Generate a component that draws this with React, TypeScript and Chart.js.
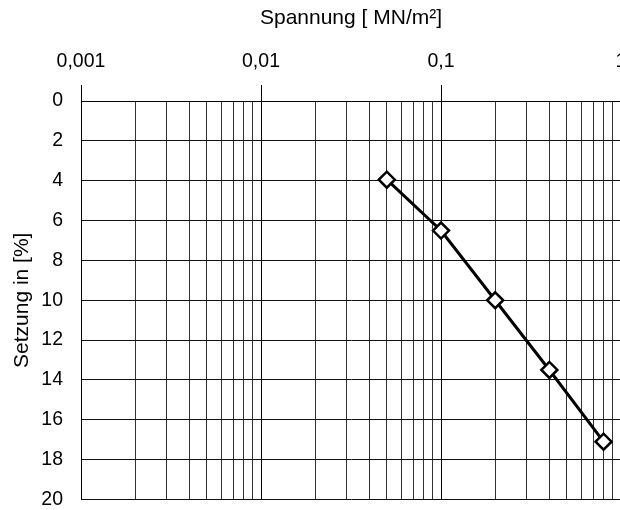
import React, { useEffect, useRef } from 'react';
import { Chart, registerables } from 'chart.js';

Chart.register(...registerables);

// ---- data ----
const stress = [0.05, 0.1, 0.2, 0.4, 0.8]; // MN/m²
const settlement = [3.95, 6.5, 10.0, 13.5, 17.1]; // %

// ---- axis definitions ----
const xDecades = [0.001, 0.01, 0.1, 1];
const xTickLabels = ['0,001', '0,01', '0,1', '1'];
const xSubdivisions = [1, 2, 3, 4, 5, 6, 7, 8, 9];
const yMin = 0;
const yMax = 20;
const yStep = 2;
const xTitle = 'Spannung [ MN/m²]';
const yTitle = 'Setzung in [%]';

const FONT = "'Liberation Sans', Arial, sans-serif";

const isDecade = (v: number) => {
  const l = Math.log10(v);
  return Math.abs(l - Math.round(l)) < 1e-9;
};

const decadeLabel = (v: number) => {
  for (let i = 0; i < xDecades.length; i++) {
    if (Math.abs(xDecades[i] - v) / xDecades[i] < 1e-9) return xTickLabels[i];
  }
  return '';
};

export default function App() {
  const canvasRef = useRef<HTMLCanvasElement | null>(null);

  useEffect(() => {
    if (!canvasRef.current) return;
    const gridValues: number[] = [];
    for (let i = 0; i < xDecades.length - 1; i++) {
      for (const s of xSubdivisions) gridValues.push(xDecades[i] * s);
    }
    gridValues.push(xDecades[xDecades.length - 1]);

    const chart = new Chart(canvasRef.current, {
      type: 'scatter',
      data: {
        datasets: [
          {
            data: stress.map((x, i) => ({ x, y: settlement[i] })),
            showLine: true,
            borderColor: '#000',
            borderWidth: 3,
            tension: 0,
            pointStyle: 'rectRot',
            pointRadius: 8,
            pointHoverRadius: 8,
            pointBorderWidth: 2.5,
            pointBackgroundColor: '#fff',
            pointBorderColor: '#000',
          },
        ],
      },
      options: {
        animation: false,
        responsive: false,
        devicePixelRatio: 1,
        layout: { padding: { left: 0, top: 0, right: 19, bottom: 9 } },
        plugins: {
          legend: { display: false },
          tooltip: { enabled: false },
          title: { display: false },
        },
        scales: {
          x: {
            type: 'logarithmic',
            position: 'top',
            min: xDecades[0],
            max: xDecades[xDecades.length - 1],
            afterBuildTicks: (scale: any) => {
              scale.ticks = gridValues.map((v) => ({ value: v, major: isDecade(v) }));
            },
            afterFit: (scale: any) => {
              scale.height = 101;
            },
            ticks: {
              autoSkip: false,
              maxRotation: 0,
              minRotation: 0,
              padding: 12,
              color: '#000',
              font: { family: FONT, size: 19.5 },
              callback: (value: any) => (isDecade(Number(value)) ? decadeLabel(Number(value)) : ''),
            },
            grid: {
              color: (ctx: any) => (ctx.tick && isDecade(ctx.tick.value) ? '#000' : '#333'),
              lineWidth: 1,
              drawTicks: true,
              tickLength: 16,
              tickColor: (ctx: any) => (ctx.tick && isDecade(ctx.tick.value) ? '#000' : 'rgba(0,0,0,0)'),
            },
            border: { color: '#000', width: 1 },
            title: {
              display: true,
              text: xTitle,
              color: '#000',
              font: { family: FONT, size: 21 },
              padding: { top: 6, bottom: 0 },
            },
          },
          y: {
            type: 'linear',
            reverse: true,
            min: yMin,
            max: yMax,
            afterFit: (scale: any) => {
              scale.width = 81;
              scale.paddingTop = 0;
              scale.paddingBottom = 0;
            },
            ticks: {
              stepSize: yStep,
              padding: 18,
              color: '#000',
              font: { family: FONT, size: 19.5 },
            },
            grid: {
              color: '#111',
              lineWidth: 1,
              drawTicks: false,
            },
            border: { color: '#000', width: 1 },
            title: {
              display: true,
              text: yTitle,
              color: '#000',
              font: { family: FONT, size: 21 },
              padding: { top: 10, bottom: 0 },
            },
          },
        },
      },
    });
    return () => chart.destroy();
  }, []);

  return (
    <div style={{ position: 'fixed', left: 0, top: 0, width: 640, height: 510, background: '#fff' }}>
      <canvas ref={canvasRef} width={640} height={510} style={{ display: 'block' }} />
    </div>
  );
}
